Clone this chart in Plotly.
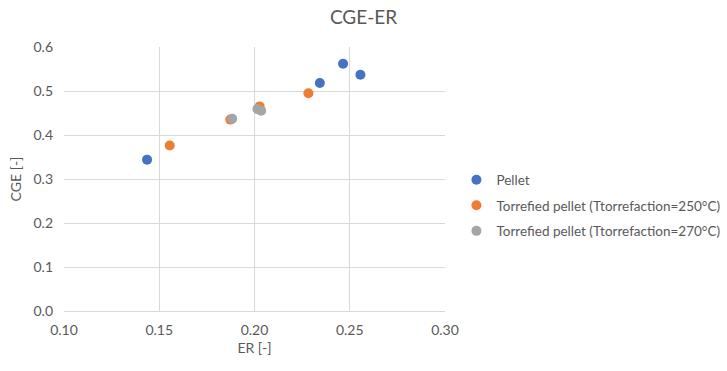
import plotly.graph_objects as go

pellet_x = [0.1436, 0.2343, 0.2465, 0.2556]
pellet_y = [0.344, 0.518, 0.562, 0.537]
t250_x = [0.1555, 0.1873, 0.2027, 0.2283]
t250_y = [0.376, 0.435, 0.465, 0.495]
t270_x = [0.1883, 0.2015, 0.2035]
t270_y = [0.437, 0.459, 0.455]

names = ["Pellet", "Torrefied pellet (Ttorrefaction=250°C)", "Torrefied pellet (Ttorrefaction=270°C)"]
colors = ["#4472C4", "#ED7D31", "#A5A5A5"]

fig = go.Figure()
for i, (xs, ys, n, c) in enumerate([(pellet_x, pellet_y, names[0], colors[0]),
                                    (t250_x, t250_y, names[1], colors[1]),
                                    (t270_x, t270_y, names[2], colors[2])]):
    fig.add_trace(go.Scatter(x=xs, y=ys, mode="markers", name=n,
                             legendgroup="g%d" % i,
                             marker=dict(color=c, size=10)))

font_fam = "Lato, Open Sans, Liberation Sans, sans-serif"
fig.update_layout(
    width=727, height=371,
    margin=dict(l=64, r=282, t=47, b=60, autoexpand=False),
    paper_bgcolor="white", plot_bgcolor="white",
    font=dict(family=font_fam, color="#595959", size=13),
    title=dict(text="CGE-ER", x=0.5, xanchor="center", y=0.952, yanchor="middle",
               font=dict(size=19, color="#595959")),
    xaxis=dict(range=[0.10, 0.30], dtick=0.05, tickformat=".2f",
               showgrid=True, gridcolor="#d9d9d9", gridwidth=1,
               showline=True, linecolor="#d9d9d9", zeroline=False,
               ticks="", ticklabelstandoff=6,
               title=dict(text="ER [-]", font=dict(size=14), standoff=6),
               tickfont=dict(size=14)),
    yaxis=dict(range=[0, 0.6], dtick=0.1, tickformat=".1f",
               showgrid=True, gridcolor="#d9d9d9", gridwidth=1,
               showline=False, zeroline=False, ticks="", ticklabelstandoff=10,
               title=dict(text="CGE [-]", font=dict(size=14), standoff=8),
               tickfont=dict(size=14)),
    legend=dict(x=1.03, y=0.555, xanchor="left", yanchor="top",
                font=dict(size=13.5, color="#595959"), itemwidth=30,
                tracegroupgap=5),
    showlegend=True,
)
fig.write_html("out.html", config={"displayModeBar": False},
               post_script="document.body.style.margin='0';")
